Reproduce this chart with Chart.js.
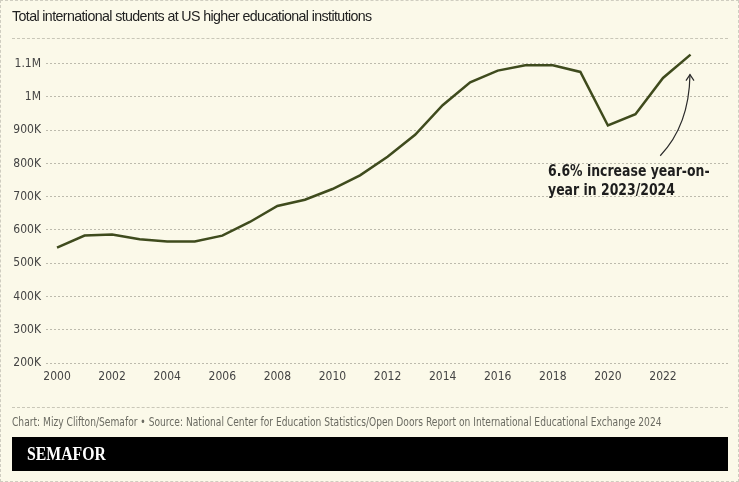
<!DOCTYPE html>
<html>
<head>
<meta charset="utf-8">
<script src="https://cdn.jsdelivr.net/npm/chart.js@4.4.1/dist/chart.umd.min.js"></script>
<style>
  html, body { margin: 0; padding: 0; background: #fbf9e9; }
  #frame {
    position: relative; width: 739px; height: 482px; overflow: hidden;
    background: #fbf9e9; box-sizing: border-box;
    border: 1px dashed #cfcdc0;
  }
  #chart-box { position: absolute; left: 0; top: 0; width: 739px; height: 482px; }
  .title {
    position: absolute; left: 11px; top: 7px; white-space: nowrap;
    font: 14.5px "Liberation Sans", Arial, sans-serif; color: #222; letter-spacing: -0.62px;
    transform: scaleX(0.98); transform-origin: left top;
  }
  .rule { position: absolute; left: 11px; width: 716px; border-top: 1px dashed #c9c7b8; }
  .note {
    position: absolute; left: 547px; top: 160px; line-height: 18px; white-space: nowrap;
    font: bold 16.5px "DejaVu Sans Condensed", "Liberation Sans Narrow", sans-serif; color: #1e1e1e;
    transform: scaleX(0.84); transform-origin: left top;
  }
  .source {
    position: absolute; left: 11px; top: 414px; white-space: nowrap;
    font: 11.5px "DejaVu Sans Condensed", "Liberation Sans Narrow", sans-serif; color: #6b6b62;
    transform: scaleX(0.882); transform-origin: left top;
  }
  .brand {
    position: absolute; left: 11px; top: 436px; width: 716px; height: 34px; background: #000;
  }
  .brand span {
    position: absolute; left: 15px; top: 6px; white-space: nowrap;
    font: bold 19px "Liberation Serif", "DejaVu Serif", serif; color: #fff;
    transform: scaleX(0.83); transform-origin: left top;
  }
</style>
</head>
<body>
<div id="frame">
  <div id="chart-box"><canvas id="chart-students"></canvas></div>
  <div class="title">Total international students at US higher educational institutions</div>
  <div class="rule" style="top: 37px;"></div>
  <div class="note">6.6% increase year-on-<br>year in 2023/2024</div>
  <div class="rule" style="top: 406px;"></div>
  <div class="source">Chart: Mizy Clifton/Semafor • Source: National Center for Education Statistics/Open Doors Report on International Educational Exchange 2024</div>
  <div class="brand"><span>SEMAFOR</span></div>
</div>

<script>
// Datos
const years = [2000, 2001, 2002, 2003, 2004, 2005, 2006, 2007, 2008, 2009, 2010, 2011,
               2012, 2013, 2014, 2015, 2016, 2017, 2018, 2019, 2020, 2021, 2022, 2023];
const students = [547000, 583000, 586000, 572000, 565000, 565000, 583000, 624000, 672000, 691000, 723000, 764000,
                  820000, 886000, 975000, 1044000, 1079000, 1095000, 1095000, 1075000, 914000, 948000, 1057000, 1127000];
const xTicks = [2000, 2002, 2004, 2006, 2008, 2010, 2012, 2014, 2016, 2018, 2020, 2022];
const yTicks = [200000, 300000, 400000, 500000, 600000, 700000, 800000, 900000, 1000000, 1100000];

const LINE_COLOR = "#3f4b1d";
const TICK_FONT = "'DejaVu Sans Condensed', 'Liberation Sans Narrow', sans-serif";

function formatValue(v) {
    if (v >= 1000000) return (v / 1000000).toString() + "M";
    return (v / 1000) + "K";
}

// Flecha de la anotación, anclada a las escalas
const arrowPlugin = {
    id: "arrowNote",
    afterDatasetsDraw(chart) {
        const { ctx, scales: { x, y } } = chart;
        const x0 = x.getPixelForValue(2021.9), y0 = y.getPixelForValue(823000);
        const cx = x.getPixelForValue(2022.95), cy = y.getPixelForValue(914000);
        const x1 = x.getPixelForValue(2022.98), y1 = y.getPixelForValue(1067000);
        ctx.save();
        ctx.strokeStyle = "#2b2b2b";
        ctx.lineWidth = 1.2;
        ctx.beginPath();
        ctx.moveTo(x0, y0);
        ctx.quadraticCurveTo(cx, cy, x1, y1);
        ctx.stroke();
        // punta
        ctx.beginPath();
        ctx.moveTo(x1 - 4, y1 + 6);
        ctx.lineTo(x1, y1);
        ctx.lineTo(x1 + 4, y1 + 6);
        ctx.stroke();
        ctx.restore();
    }
};

const ctx = document.getElementById("chart-students").getContext("2d");

new Chart(ctx, {
    type: "line",
    data: {
        labels: years,
        datasets: [{
            label: "Total international students",
            data: years.map((yr, i) => ({ x: yr, y: students[i] })),
            borderColor: LINE_COLOR,
            borderWidth: 2.5,
            pointRadius: 0,
            tension: 0,
            fill: false
        }]
    },
    options: {
        responsive: true,
        maintainAspectRatio: false,
        animation: false,
        layout: { padding: { top: 46, right: 12, bottom: 90, left: 0 } },
        plugins: {
            legend: { display: false },
            tooltip: { enabled: false }
        },
        scales: {
            x: {
                type: "linear",
                min: 1999.6,
                max: 2024.36,
                afterBuildTicks: (scale) => { scale.ticks = xTicks.map(v => ({ value: v })); },
                afterFit: (scale) => { scale.height = 30; },
                grid: { display: false, drawTicks: false },
                border: { display: false },
                ticks: {
                    padding: 7,
                    color: "#444",
                    font: { family: TICK_FONT, size: 12 },
                    maxRotation: 0,
                    callback: (v) => String(v)
                }
            },
            y: {
                min: 200000,
                max: 1150000,
                afterBuildTicks: (scale) => { scale.ticks = yTicks.map(v => ({ value: v })); },
                afterFit: (scale) => { scale.width = 45; },
                grid: {
                    color: "#bdbbad",
                    lineWidth: 1,
                    drawTicks: false
                },
                border: { display: false, dash: [2, 2] },
                ticks: {
                    padding: 5,
                    color: "#444",
                    font: { family: TICK_FONT, size: 12 },
                    callback: (v) => formatValue(v)
                }
            }
        }
    },
    plugins: [arrowPlugin]
});
</script>
</body>
</html>
